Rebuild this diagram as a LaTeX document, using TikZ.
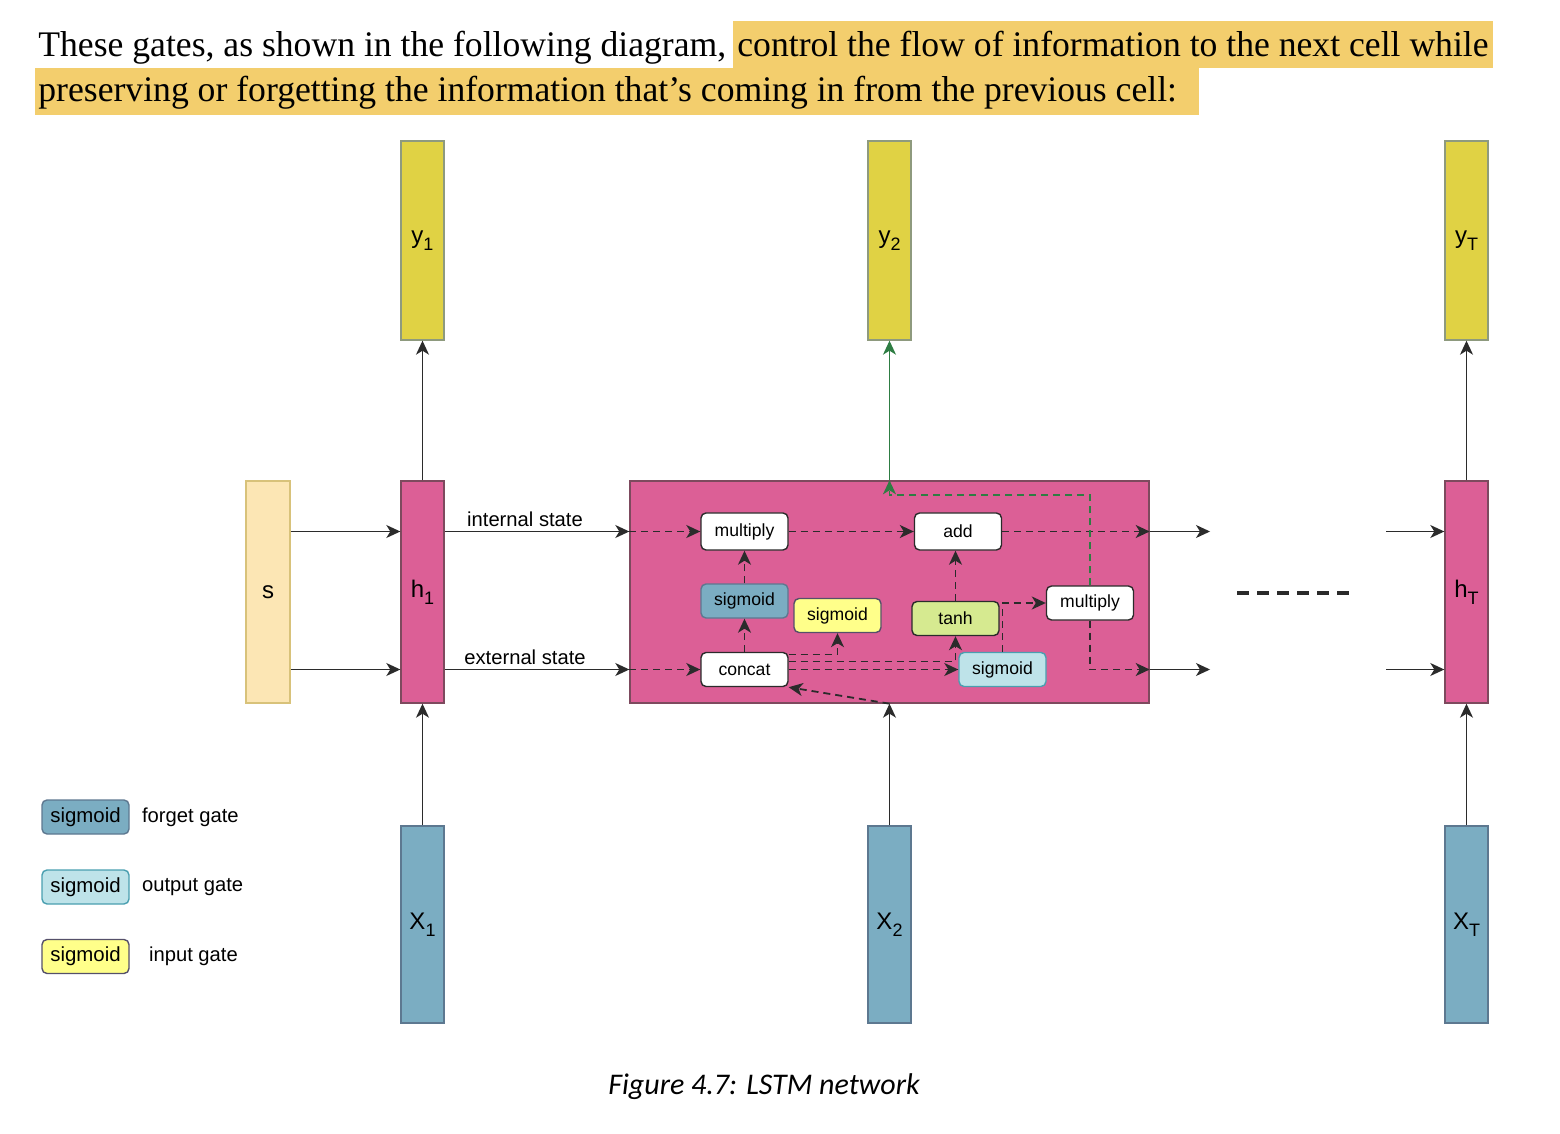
\documentclass[tikz,border=0pt]{standalone}
\usepackage{fontspec}
\setmainfont{Liberation Sans}
\newfontfamily\parafont[FakeStretch=0.99]{Liberation Serif}
\newfontfamily\captionfont{Carlito}
\usetikzlibrary{arrows.meta,positioning,calc}

\definecolor{ycol}{HTML}{E0D244}
\definecolor{ybord}{HTML}{8E9A7E}
\definecolor{hcol}{HTML}{DC5F96}
\definecolor{hbord}{HTML}{7D4A5E}
\definecolor{xcol}{HTML}{7BADC2}
\definecolor{xbord}{HTML}{5D7890}
\definecolor{scol}{HTML}{FCE6B4}
\definecolor{sbord}{HTML}{D8C27A}
\definecolor{outcol}{HTML}{BEE3E9}
\definecolor{outbord}{HTML}{4A9FB0}
\definecolor{incol}{HTML}{FFFF8A}
\definecolor{inbord}{HTML}{55506A}
\definecolor{tanhcol}{HTML}{D6EA90}
\definecolor{lnk}{HTML}{2B2B2B}
\definecolor{grn}{HTML}{2E7D43}
\definecolor{hilite}{HTML}{F3CE6D}

\newcommand{\sub}[1]{\raisebox{-3.5pt}{\fontsize{9}{10}\selectfont #1}}

\tikzset{
  column/.style={draw, line width=0.7pt, minimum width=21.5pt, inner sep=0pt,
    font=\fontsize{12}{14}\selectfont},
  ybox/.style={column, fill=ycol, draw=ybord, minimum height=99.5pt},
  hbox/.style={column, fill=hcol, draw=hbord, minimum height=111pt},
  xbox/.style={column, fill=xcol, draw=xbord, minimum height=98.5pt},
  sbox/.style={column, fill=scol, draw=sbord, minimum width=22pt, minimum height=111pt},
  op/.style={draw=lnk, fill=white, rounded corners=2.5pt, line width=0.7pt,
    minimum width=43.5pt, minimum height=18.5pt, inner sep=0pt,
    font=\fontsize{8.8}{10}\selectfont},
  gate/.style={op, minimum height=17pt},
  forgetg/.style={gate, fill=xcol, draw=xbord},
  outputg/.style={gate, fill=outcol, draw=outbord},
  inputg/.style={gate, fill=incol, draw=inbord},
  tanhg/.style={gate, fill=tanhcol},
  arr/.style={draw=lnk, line width=0.6pt, -{Stealth[length=7pt,width=6.5pt,inset=2pt]}},
  dsh/.style={arr, line width=0.9pt, dash pattern=on 3.5pt off 2.5pt},
  gdsh/.style={dsh, draw=grn, -{Stealth[length=7pt,width=6.5pt,inset=2pt,fill=grn]}},
  lbl/.style={font=\fontsize{10.1}{12}\selectfont, inner sep=1pt}
}

\begin{document}
\begin{tikzpicture}[x=0.5pt, y=-0.5pt]
\useasboundingbox (0,0) rectangle (1560,1134);

% text above the picture
\fill[hilite] (733,21) rectangle (1493,68);
\fill[hilite] (35,68) rectangle (1199,115);
\begin{scope}[every node/.style={anchor=base west, inner sep=0pt, font=\parafont\fontsize{18}{22}\selectfont}]
  \node (p1) at (38,57) {These gates, as shown in the following diagram,};
  \node (p2) at (737,57) {control the flow of information to the next cell while};
  \node (p3) at (38,102) {preserving or forgetting the information that’s coming in from the previous cell:};
\end{scope}

% outputs, hidden states, inputs
\node[ybox] (y1) at (422.5,240.5) {y\sub{1}};
\node[ybox] (y2) at (889.5,240.5) {y\sub{2}};
\node[ybox] (yT) at (1466.5,240.5) {y\sub{T}};
\node[sbox] (s) at (268,592) {s};
\node[hbox] (h1) at (422.5,592) {h\sub{1}};
\node[hbox] (hT) at (1466.5,592) {h\sub{T}};
\node[xbox] (X1) at (422.5,924.5) {X\sub{1}};
\node[xbox] (X2) at (889.5,924.5) {X\sub{2}};
\node[xbox] (XT) at (1466.5,924.5) {X\sub{T}};

% the LSTM cell
\node[hbox, minimum width=259.5pt] (cell) at (889.5,592) {};
\node[op] (mul1) at (744.5,531.5) {multiply};
\node[op] (add) at (958,531.5) {add};
\node[forgetg] (fgt) at (744.5,601) {sigmoid};
\node[inputg] (inp) at (837.5,615.5) {sigmoid};
\node[tanhg] (tnh) at (955.5,618.5) {tanh};
\node[op, minimum height=17pt] (mul2) at (1090,603) {multiply};
\node[op, minimum height=17pt] (cat) at (744.5,669.5) {concat};
\node[outputg] (outg) at (1002.5,669.5) {sigmoid};

% solid links
\draw[arr] (h1) -- (y1);
\draw[arr] (X1) -- (h1);
\draw[arr] (hT) -- (yT);
\draw[arr] (XT) -- (hT);
\draw[arr] (X2) -- (cell);
\draw[arr] (s.east |- mul1) -- (h1.west |- mul1);
\draw[arr] (s.east |- cat) -- (h1.west |- cat);
\draw[arr] (h1.east |- mul1) -- node[lbl, above=1pt, xshift=-6pt] {internal state} (cell.west |- mul1);
\draw[arr] (h1.east |- cat) -- node[lbl, above=1pt, xshift=-6pt] {external state} (cell.west |- cat);
\coordinate (o1) at (1210,531.5);
\coordinate (o2) at (1210,669.5);
\coordinate (i1) at (1386,531.5);
\coordinate (i2) at (1386,669.5);
\draw[arr] (cell.east |- mul1) -- (o1);
\draw[arr] (cell.east |- cat) -- (o2);
\draw[arr] (i1) -- (hT.west |- i1);
\draw[arr] (i2) -- (hT.west |- i2);
\draw[lnk, line width=2pt, dash pattern=on 6pt off 4pt] (1237,593) -- (1349,593);

% inside the cell
\draw[dsh] (cell.west |- mul1) -- (mul1);
\draw[dsh] (mul1) -- (add);
\draw[dsh] (add) -- (cell.east |- add);
\draw[dsh] (cell.west |- cat) -- (cat);
\draw[dsh] (cat) -- (fgt);
\draw[dsh] (fgt) -- (mul1);
\draw[dsh] ([yshift=7.5pt]cat.east) -| (inp.south);
\draw[dsh] ([yshift=4pt]cat.east) -| (tnh.south);
\draw[dsh] (cat) -- (outg);
\draw[dsh] (tnh.north) -- (tnh.north |- add.south);
\draw[dsh] (outg.north) |- (mul2.west);
\draw[dsh] (mul2.south) |- (cell.east |- cat);
\draw[dsh] (cell.south) -- (cat.south east);
\draw[gdsh] (mul2.north) |- ($(cell.north)+(0,15)$) -- (cell.north);
\draw[arr, draw=grn, -{Stealth[length=7pt,width=6.5pt,inset=2pt,fill=grn]}] (cell.north) -- (y2);

% legend
\node[forgetg, font=\fontsize{10.2}{12}\selectfont] (lf) at (85.5,817) {sigmoid};
\node[outputg, font=\fontsize{10.2}{12}\selectfont] (lo) at (85.5,887) {sigmoid};
\node[inputg, font=\fontsize{10.2}{12}\selectfont] (li) at (85.5,956.5) {sigmoid};
\node[lbl, right=5pt of lf] {forget gate};
\node[lbl, right=5pt of lo] {output gate};
\node[lbl, right=8.5pt of li] {input gate};

\node[font=\captionfont\itshape\fontsize{15}{18}\selectfont] (cap) at (764,1087) {Figure 4.7: LSTM network};
\end{tikzpicture}
\end{document}
